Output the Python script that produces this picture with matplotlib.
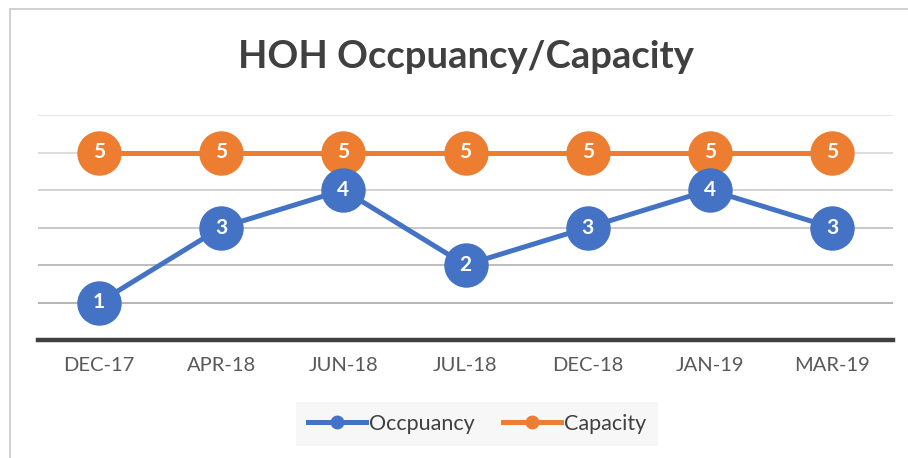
import matplotlib
matplotlib.use("Agg")
import matplotlib.pyplot as plt
from matplotlib.patches import Rectangle
from matplotlib.lines import Line2D

categories = ["DEC-17", "APR-18", "JUN-18", "JUL-18", "DEC-18", "JAN-19", "MAR-19"]
occupancy = [1, 3, 4, 2, 3, 4, 3]
capacity = [5, 5, 5, 5, 5, 5, 5]

plt.rcParams['font.family'] = ['Lato', 'DejaVu Sans']

W, H = 908, 458
fig = plt.figure(figsize=(W / 100, H / 100), dpi=100)
fig.patch.set_facecolor("white")
fig.patches.append(Rectangle((10 / W, -5 / H), (W + 10) / W, (H - 8.5 + 5) / H,
                             transform=fig.transFigure, fill=False,
                             edgecolor="#c8c8c8", linewidth=1.2, clip_on=False))

ax = fig.add_axes([38 / W, (H - 340) / H, (893 - 38) / W, (340 - 115) / H])
ax.set_xlim(-0.5, len(categories) - 0.5)
ax.set_ylim(0, 6)
for s in ax.spines.values():
    s.set_visible(False)
ax.set_yticks([])
ax.set_xticks(range(len(categories)))
ax.set_xticklabels(categories, fontsize=14.5, color="#595959")
ax.tick_params(axis="x", length=0, pad=12)

grid_colors = {1: "#b0b0b0", 2: "#b8b8b8", 3: "#c4c4c4", 4: "#cfcfcf", 5: "#d9d9d9", 6: "#e4e4e4"}
for yv, c in grid_colors.items():
    ax.axhline(yv, color=c, linewidth=1.3, zorder=1)
ax.axhline(0, color="#404040", linewidth=3.2, zorder=2, clip_on=False)

blue = "#4472c4"
orange = "#ed7d31"
x = list(range(len(categories)))
ax.plot(x, capacity, color=orange, linewidth=3.6, marker="o", markersize=32,
        markeredgewidth=0, zorder=3, clip_on=False)
ax.plot(x, occupancy, color=blue, linewidth=3.6, marker="o", markersize=32,
        markeredgewidth=0, zorder=4, clip_on=False)
for xi, v in zip(x, capacity):
    ax.text(xi, v, str(v), ha="center", va="center", color="white",
            fontsize=15, fontweight="bold", zorder=5)
for xi, v in zip(x, occupancy):
    ax.text(xi, v, str(v), ha="center", va="center", color="white",
            fontsize=15, fontweight="bold", zorder=5)

fig.text(466 / W, 1 - 57 / H, "HOH Occpuancy/Capacity", ha="center", va="center",
         fontsize=27.5, fontweight="bold", color="#404040")

handles = [Line2D([], [], color=blue, linewidth=3.6, marker="o", markersize=9),
           Line2D([], [], color=orange, linewidth=3.6, marker="o", markersize=9)]
leg = fig.legend(handles, ["Occpuancy", "Capacity"], loc="center",
                 bbox_to_anchor=(477 / W, 1 - 424 / H), ncol=2, frameon=True,
                 fontsize=15.5, handlelength=2.7, handletextpad=0.15,
                 columnspacing=1.3, borderpad=0.55, fancybox=False)
leg.get_frame().set_facecolor("#f6f6f6")
leg.get_frame().set_edgecolor("none")
for t in leg.get_texts():
    t.set_color("#404040")

fig.savefig("out.png", dpi=100, facecolor="white")
